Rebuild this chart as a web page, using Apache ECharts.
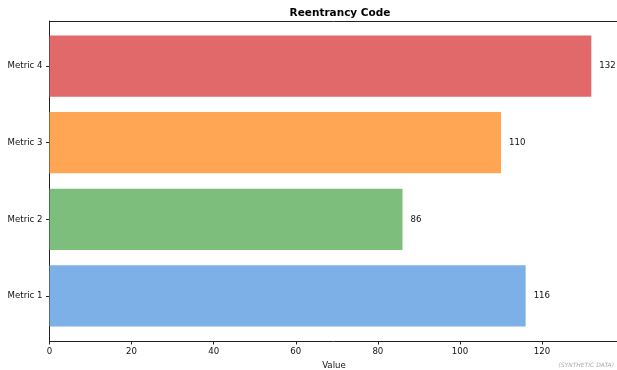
<!DOCTYPE html>
<html>
<head>
<meta charset="utf-8">
<script src="https://cdn.jsdelivr.net/npm/echarts@6/dist/echarts.min.js"></script>
<style>
html, body { margin: 0; padding: 0; background: #fff; }
#main { width: 617px; height: 370px; }
</style>
</head>
<body>
<div id="main"></div>
<script>
var categories = ['Metric 1', 'Metric 2', 'Metric 3', 'Metric 4'];
var values = [116, 86, 110, 132];
var barColors = ['#7eb0e8', '#7dbe7d', '#ffa654', '#e2696a'];
var xTicks = [0, 20, 40, 60, 80, 100, 120];
var xMax = 138.6;

var chartDom = document.getElementById('main');
var myChart = echarts.init(chartDom);
var option;

var font = 'DejaVu Sans';

option = {
    animation: false,
    title: {
        text: 'Reentrancy Code',
        left: 335,
        textAlign: 'center',
        top: 3,
        textStyle: {
            fontFamily: font,
            fontSize: 10.5,
            fontWeight: 'bold',
            color: '#000'
        }
    },
    grid: [
        // frame (spines, x ticks)
        { left: 49.5, right: -1.4, top: 21, bottom: 29, outerBoundsMode: 'none', containLabel: false },
        // bars, matplotlib-like category spacing
        { left: 49.5, right: -1.4, top: 27.9, bottom: 35.9, outerBoundsMode: 'none', containLabel: false }
    ],
    xAxis: [
        {
            gridIndex: 0,
            type: 'value',
            position: 'bottom',
            min: 0,
            max: xMax,
            name: 'Value',
            nameLocation: 'middle',
            nameGap: 17,
            nameTextStyle: { fontFamily: font, fontSize: 8.6, color: '#111' },
            splitLine: { show: false },
            axisLine: { show: true, onZero: false, lineStyle: { color: '#222', width: 1 } },
            axisTick: { show: true, length: 3.5, customValues: xTicks, lineStyle: { color: '#222' } },
            axisLabel: {
                customValues: xTicks,
                margin: 6,
                fontFamily: font,
                fontSize: 8.6,
                color: '#111'
            }
        },
        {
            gridIndex: 0,
            type: 'value',
            position: 'top',
            min: 0,
            max: xMax,
            splitLine: { show: false },
            axisLine: { show: true, onZero: false, lineStyle: { color: '#222', width: 1 } },
            axisTick: { show: false },
            axisLabel: { show: false }
        },
        {
            gridIndex: 1,
            type: 'value',
            min: 0,
            max: xMax,
            show: false
        }
    ],
    yAxis: [
        {
            gridIndex: 0,
            type: 'value',
            min: 0,
            max: 1,
            splitLine: { show: false },
            axisLine: { show: true, onZero: false, lineStyle: { color: '#222', width: 1 } },
            axisTick: { show: false },
            axisLabel: { show: false }
        },
        {
            gridIndex: 1,
            type: 'category',
            data: categories,
            axisLine: { show: false },
            axisTick: { show: true, alignWithLabel: true, length: 3.5, lineStyle: { color: '#222' } },
            axisLabel: {
                margin: 7,
                fontFamily: font,
                fontSize: 8.6,
                color: '#111'
            }
        }
    ],
    series: [
        {
            type: 'bar',
            xAxisIndex: 2,
            yAxisIndex: 1,
            barWidth: '80%',
            data: values.map(function (v, i) {
                return { value: v, itemStyle: { color: barColors[i] } };
            }),
            label: {
                show: true,
                position: 'right',
                distance: 8,
                fontFamily: font,
                fontSize: 8.6,
                color: '#111',
                formatter: '{c}'
            }
        }
    ],
    graphic: [
        {
            type: 'text',
            right: 3,
            bottom: 2,
            style: {
                text: '(SYNTHETIC DATA)',
                font: 'italic 6px "DejaVu Sans"',
                fill: '#aaa'
            }
        }
    ]
};

option && myChart.setOption(option);

window.addEventListener('resize', myChart.resize);
</script>
</body>
</html>
